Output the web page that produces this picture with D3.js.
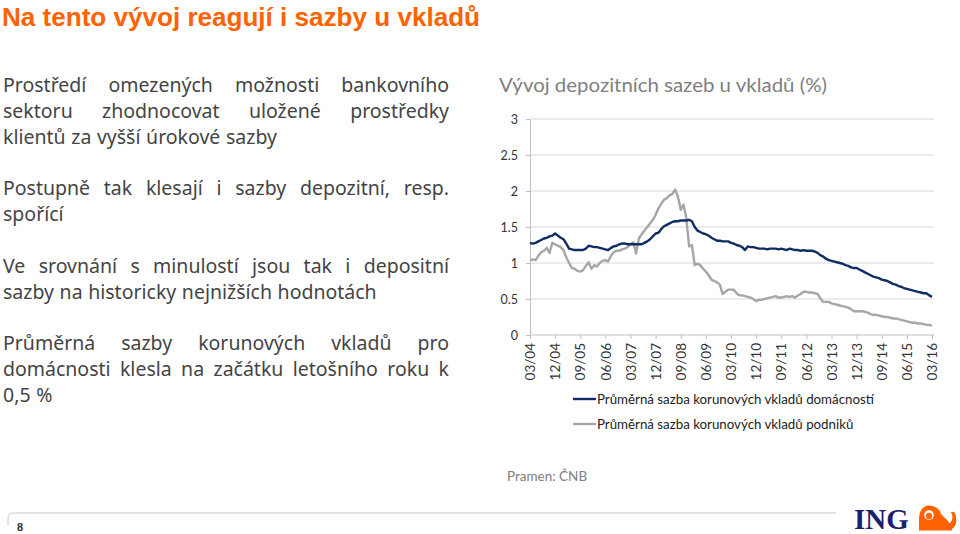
<!DOCTYPE html>
<html><head><meta charset="utf-8">
<script src="https://cdn.jsdelivr.net/npm/d3@7/dist/d3.min.js"></script>
<style>
html,body{margin:0;padding:0;background:#fff;}
svg{display:block;}
</style></head>
<body>
<svg id="c" width="960" height="534"></svg>
<script>
// ---------- data ----------
const households = [
1.28,1.27,1.28,1.30,1.32,1.34,1.35,1.37,1.38,1.41,1.38,1.35,1.33,1.27,1.20,1.19,1.18,1.18,1.18,1.18,
1.20,1.24,1.23,1.22,1.22,1.21,1.20,1.19,1.18,1.21,1.23,1.24,1.26,1.27,1.27,1.26,1.26,1.26,1.26,1.26,
1.26,1.28,1.30,1.33,1.37,1.41,1.42,1.47,1.51,1.53,1.55,1.57,1.58,1.58,1.59,1.59,1.59,1.60,1.58,1.50,
1.45,1.43,1.41,1.40,1.38,1.35,1.33,1.31,1.31,1.30,1.30,1.30,1.28,1.27,1.25,1.24,1.22,1.18,1.23,1.22,
1.22,1.21,1.20,1.20,1.20,1.19,1.20,1.20,1.20,1.19,1.20,1.19,1.18,1.20,1.19,1.18,1.18,1.17,1.18,1.17,
1.17,1.17,1.16,1.14,1.11,1.09,1.06,1.04,1.03,1.02,1.01,1.00,0.99,0.97,0.96,0.94,0.93,0.93,0.91,0.89,
0.87,0.85,0.83,0.81,0.80,0.79,0.77,0.76,0.75,0.73,0.71,0.70,0.68,0.67,0.65,0.64,0.63,0.62,0.61,0.60,
0.59,0.58,0.58,0.55,0.53];
const enterprises = [
1.04,1.05,1.04,1.10,1.15,1.17,1.21,1.14,1.28,1.26,1.24,1.22,1.18,1.08,1.00,0.93,0.92,0.89,0.88,0.90,
0.96,1.01,0.92,0.97,0.95,1.00,1.03,1.04,1.02,1.10,1.15,1.17,1.17,1.19,1.20,1.22,1.26,1.29,1.13,1.34,
1.40,1.45,1.50,1.55,1.60,1.67,1.76,1.82,1.88,1.90,1.94,1.96,2.02,1.92,1.74,1.81,1.62,1.23,1.25,0.97,
0.99,0.97,0.92,0.88,0.83,0.77,0.75,0.73,0.70,0.57,0.60,0.63,0.63,0.63,0.58,0.55,0.55,0.54,0.53,0.52,
0.50,0.47,0.49,0.49,0.50,0.51,0.52,0.53,0.54,0.52,0.52,0.53,0.54,0.53,0.54,0.52,0.55,0.57,0.60,0.60,
0.59,0.59,0.58,0.57,0.51,0.46,0.46,0.46,0.44,0.43,0.42,0.41,0.40,0.39,0.38,0.36,0.33,0.33,0.33,0.33,
0.32,0.31,0.29,0.28,0.28,0.27,0.26,0.25,0.25,0.24,0.23,0.23,0.22,0.21,0.20,0.19,0.18,0.17,0.17,0.16,
0.16,0.15,0.14,0.14,0.13];
const xTickLabels = ["03/04","12/04","09/05","06/06","03/07","12/07","09/08","06/09","03/10","12/10","09/11","06/12","03/13","12/13","09/14","06/15","03/16"];
const yTicks = [0,0.5,1,1.5,2,2.5,3];
const seriesNames = ["Průměrná sazba korunových vkladů domácností","Průměrná sazba korunových vkladů podniků"];
const paragraphs = [
  ["Prostředí omezených možnosti bankovního","sektoru zhodnocovat uložené prostředky","klientů za vyšší úrokové sazby"],
  ["Postupně tak klesají i sazby depozitní, resp.","spořící"],
  ["Ve srovnání s minulostí jsou tak i depositní","sazby na historicky nejnižších hodnotách"],
  ["Průměrná sazby korunových vkladů pro","domácnosti klesla na začátku letošního roku k","0,5 %"]
];

// ---------- drawing ----------
const svg = d3.select("#c");
const bodyFont = "'Noto Sans', 'Open Sans', sans-serif";
const chartFont = "Lato, 'Open Sans', sans-serif";

// Title
svg.append("text").attr("x",2).attr("y",26)
  .attr("font-family","'Liberation Sans', Arial, sans-serif").attr("font-weight","bold")
  .attr("font-size",26.5).attr("fill","#FF6200")
  .attr("textLength",478).attr("lengthAdjust","spacingAndGlyphs")
  .text("Na tento vývoj reagují i sazby u vkladů");

// Left paragraphs (justified)
const paraTops = [92, 195, 273, 350];
const lineH = 26, leftX = 3, rightX = 449;
paragraphs.forEach((lines, pi) => {
  lines.forEach((line, li) => {
    const y = paraTops[pi] + li*lineH;
    const words = line.split(" ");
    const justify = li < lines.length - 1;
    const g = svg.append("g");
    const nodes = words.map(w => g.append("text").attr("y",y)
      .attr("font-family",bodyFont).attr("font-size",19.5).attr("fill","#444").text(w));
    const widths = nodes.map(n => n.node().getComputedTextLength());
    const total = d3.sum(widths);
    const space = justify && words.length>1 ? (rightX-leftX-total)/(words.length-1) : 5.6;
    let x = leftX;
    nodes.forEach((n,i) => { n.attr("x",x); x += widths[i] + space; });
  });
});

// Chart
const x = d3.scaleLinear().domain([0, households.length-1]).range([530, 932]);
const y = d3.scaleLinear().domain([0, 3]).range([335, 119]);

svg.append("text").attr("x",499).attr("y",92)
  .attr("font-family",chartFont).attr("font-size",19.5).attr("fill","#7f7f7f")
  .attr("textLength",328).attr("lengthAdjust","spacingAndGlyphs")
  .text("Vývoj depozitních sazeb u vkladů (%)");

// gridlines
svg.append("g").selectAll("line").data(yTicks.filter(d=>d>0)).join("line")
  .attr("x1",530).attr("x2",934).attr("y1",d=>y(d)).attr("y2",d=>y(d))
  .attr("stroke","#d9d9d9").attr("stroke-width",1);

// y axis
const yAxis = svg.append("g").attr("transform","translate(530,0)")
  .call(d3.axisLeft(y).tickValues(yTicks).tickSize(4).tickPadding(8).tickFormat(d3.format("")));
yAxis.select(".domain").attr("stroke","#bfbfbf");
yAxis.selectAll(".tick line").attr("stroke","#bfbfbf");
yAxis.selectAll("text").attr("font-family",chartFont).attr("font-size",12.5).attr("fill","#333");

// x axis
const xTickVals = xTickLabels.map((d,i)=>i*9);
const xAxis = svg.append("g").attr("transform","translate(0,335)")
  .call(d3.axisBottom(x).tickValues(xTickVals).tickSize(4).tickFormat((d,i)=>xTickLabels[i]));
xAxis.select(".domain").attr("stroke","#bfbfbf").attr("d","M530,0H934");
xAxis.selectAll(".tick line").attr("stroke","#bfbfbf");
xAxis.selectAll("text").attr("font-family",chartFont).attr("font-size",13.5).attr("fill","#333")
  .attr("transform","rotate(-90)").attr("text-anchor","end").attr("dy","0.35em").attr("x",-8).attr("y",0);

// lines
const line = d3.line().x((d,i)=>x(i)).y(d=>y(d));
const colors = ["#0f2c63","#a6a6a6"];
[enterprises, households].forEach((s,k) => {
  svg.append("path").datum(s).attr("d",line).attr("fill","none")
    .attr("stroke", k===0 ? colors[1] : colors[0]).attr("stroke-width",2.4)
    .attr("stroke-linejoin","round");
});

// legend
seriesNames.forEach((n,i) => {
  const ly = 399 + i*25;
  svg.append("line").attr("x1",573).attr("x2",596).attr("y1",ly).attr("y2",ly)
    .attr("stroke",colors[i]).attr("stroke-width",2.4);
  svg.append("text").attr("x",597).attr("y",ly+4.5)
    .attr("font-family",chartFont).attr("font-size",13.3).attr("fill","#222").text(n);
});

// source
svg.append("text").attr("x",507).attr("y",481)
  .attr("font-family",chartFont).attr("font-size",13.5).attr("fill","#808080").text("Pramen: ČNB");

// footer
svg.append("path").attr("d","M8,526 L8,518 Q8,513 14,513 L836,513")
  .attr("fill","none").attr("stroke","#c8c8c8").attr("stroke-width",1);
svg.append("text").attr("x",17).attr("y",531)
  .attr("font-family","'Liberation Sans', Arial, sans-serif").attr("font-weight","bold")
  .attr("font-size",11).attr("fill","#333").text("8");
svg.append("text").attr("x",854).attr("y",529)
  .attr("font-family","'Liberation Serif', 'Times New Roman', serif").attr("font-weight","bold")
  .attr("font-size",29).attr("fill","#1b1f6e").text("ING");
// lion (simplified, lying)
const lion = svg.append("g").attr("fill","#FF6200");
lion.append("path").attr("d","M919,530 L919,519 Q919,507 929,506 Q939,506 941,514 L948,521 Q952,526 951,530 Z");
lion.append("circle").attr("cx",929).attr("cy",514).attr("r",8.5);
lion.append("circle").attr("cx",929).attr("cy",515).attr("r",4.8).attr("fill","#fff");
lion.append("ellipse").attr("cx",929).attr("cy",516).attr("rx",3).attr("ry",3.3).attr("fill","#FF6200");
lion.append("path").attr("d","M950,530 Q958,527 956,516 Q955,511 951,512 Q955,520 948,525 Z");
lion.append("rect").attr("x",919).attr("y",528).attr("width",33).attr("height",2.5);
</script>
</body></html>
